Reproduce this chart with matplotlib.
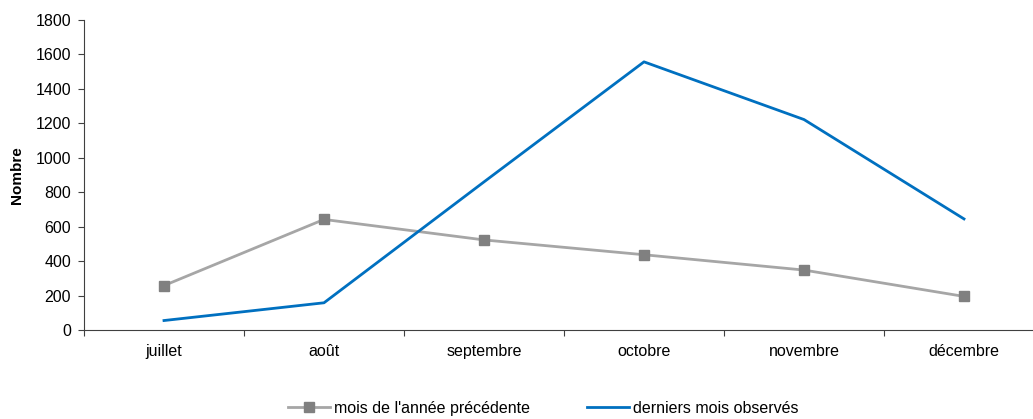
import numpy as np
from matplotlib import pyplot as plt

plt.rcParams['font.family'] = ['Liberation Sans', 'DejaVu Sans']
plt.rcParams['font.size'] = 11.5

mois = ['juillet', 'août', 'septembre', 'octobre', 'novembre', 'décembre']
annee_precedente = [258, 642, 523, 437, 348, 195]
derniers_mois = [55, 158, 860, 1557, 1222, 645]

fig = plt.figure(figsize=(10.33, 4.19), dpi=100)
ax = fig.add_axes([84 / 1033, 1 - 330 / 419, 960 / 1033, 310 / 419])

x = np.arange(len(mois))
ax.plot(x, annee_precedente, color='#A6A6A6', lw=2.0, marker='s', ms=7,
        mfc='#808080', mec='#808080', label="mois de l'année précédente")
ax.plot(x, derniers_mois, color='#0070C0', lw=2.0, label='derniers mois observés')

ax.set_xlim(-0.5, len(mois) - 0.5)
ax.set_ylim(0, 1800)
ax.set_yticks(range(0, 1801, 200))
ax.set_xticks(x)
ax.set_xticklabels(mois)
ax.set_xticks(np.arange(-0.5, len(mois)), minor=True)
ax.tick_params(axis='x', which='major', length=0, pad=10)
ax.tick_params(axis='x', which='minor', length=4.3, width=0.8, color='#404040')
ax.tick_params(axis='y', length=4.3, width=0.8, color='#404040', pad=5)

for s in ['top', 'right']:
    ax.spines[s].set_visible(False)
for s in ['left', 'bottom']:
    ax.spines[s].set_color('#404040')
    ax.spines[s].set_linewidth(0.8)

ax.set_ylabel('Nombre', fontweight='bold', fontsize=11, labelpad=8)

fig.legend(loc='center', bbox_to_anchor=(543 / 1033, 1 - 408 / 419), ncol=2,
           frameon=False, handlelength=2.6, handletextpad=0.25, columnspacing=3.6)

plt.savefig('out.png', dpi=100)
